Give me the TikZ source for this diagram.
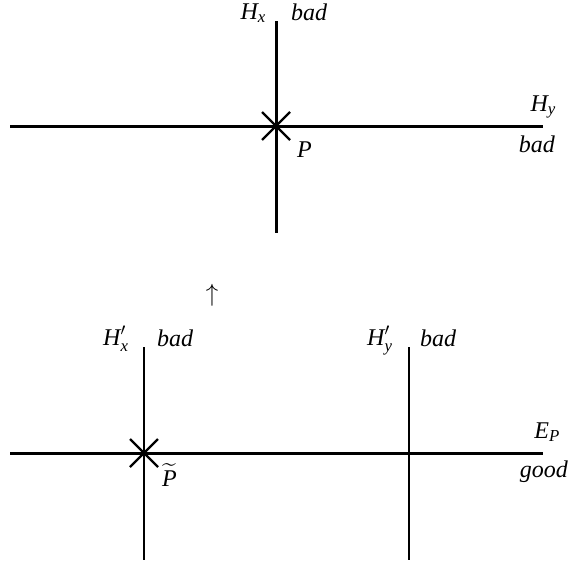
\documentclass[tikz,border=0pt]{standalone}
\usepackage{amsmath}
\usepackage{fontspec}
\setmainfont{Liberation Serif}
\begin{document}
\begin{tikzpicture}[x=1pt,y=-1pt,
  heavy/.style={line width=3pt},
  light/.style={line width=2pt},
  crossmark/.style={line width=2.2pt},
  lbl/.style={inner sep=0pt,font=\fontsize{24}{28}\selectfont\itshape}]
\useasboundingbox (0,0) rectangle (569,565);
% ---------- top picture ----------
\coordinate (hxT) at (276,21);
\coordinate (hxB) at (276,233);
\coordinate (hyL) at (10,126);
\coordinate (hyR) at (543,126);
\coordinate (P) at (276,126);
\coordinate (pa1) at (262,112);
\coordinate (pa2) at (290,140);
\coordinate (pb1) at (290,112);
\coordinate (pb2) at (262,140);
\draw[heavy] (hxT) -- (hxB);
\draw[heavy] (hyL) -- (hyR);
\draw[crossmark] (pa1) -- (pa2);
\draw[crossmark] (pb1) -- (pb2);
\node[lbl,anchor=base east] (lHx) at (266,19) {H\textsubscript{x}};
\node[lbl,anchor=base west] (lbad1) at (291,20) {bad};
\node[lbl,anchor=base east] (lHy) at (556,111) {H\textsubscript{y}};
\node[lbl,anchor=base east] (lbad2) at (555,152) {bad};
\node[lbl,anchor=base west] (lP) at (297,157) {P};
% ---------- arrow ----------
\node[inner sep=0pt,font=\fontsize{23}{27}\selectfont] (arr) at (212,295) {$\uparrow$};
% ---------- bottom picture ----------
\coordinate (vxT) at (144,347);
\coordinate (vxB) at (144,560);
\coordinate (vyT) at (409,347);
\coordinate (vyB) at (409,560);
\coordinate (eL) at (10,453);
\coordinate (eR) at (543,453);
\coordinate (qa1) at (130,439);
\coordinate (qa2) at (158,467);
\coordinate (qb1) at (158,439);
\coordinate (qb2) at (130,467);
\draw[light] (vxT) -- (vxB);
\draw[light] (vyT) -- (vyB);
\draw[heavy] (eL) -- (eR);
\draw[crossmark] (qa1) -- (qa2);
\draw[crossmark] (qb1) -- (qb2);
\node[lbl,anchor=base west] (lHxp) at (103,345) {H$^{\prime}_{\text{\itshape x}}$};
\node[lbl,anchor=base west] (lbad3) at (157,346) {bad};
\node[lbl,anchor=base west] (lHyp) at (367,345) {H$^{\prime}_{\text{\itshape y}}$};
\node[lbl,anchor=base west] (lbad4) at (420,346) {bad};
\node[lbl,anchor=base east] (lEP) at (560,438) {E\textsubscript{P}};
\node[lbl,anchor=base east] (lgood) at (568,477) {good};
\node[lbl,anchor=base west] (lPt) at (162,486) {$\widetilde{\text{\itshape P}}$};
\end{tikzpicture}
\end{document}
